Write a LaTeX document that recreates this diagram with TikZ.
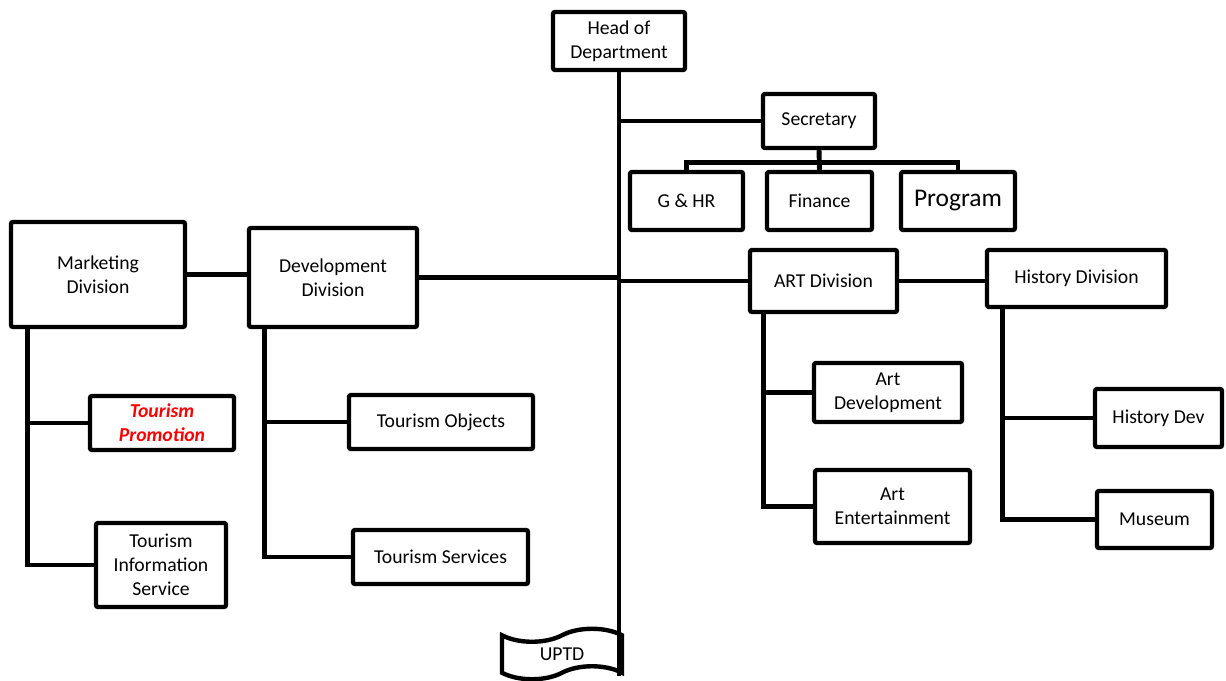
\documentclass[tikz,border=0pt]{standalone}
\usepackage{fontspec}
\setmainfont{Carlito}
\usetikzlibrary{shapes.symbols,calc}
\tikzset{
  box/.style={draw, line width=2.5pt, rounded corners=1.2pt, fill=white, align=center,
    font=\fontsize{11.2}{13.6}\selectfont, inner sep=2pt},
  link/.style={line width=2.8pt},
}
\begin{document}
\begin{tikzpicture}
	\useasboundingbox (0,0) rectangle (24.52,-13.6);
	% top of the tree
	\node[box, minimum width=2.64cm, minimum height=1.16cm] (head) at (12.38,-0.82) {Head of\\Department};
	\node[box, minimum width=2.24cm, minimum height=1.08cm] (sec) at (16.38,-2.42) {Secretary};
	\node[box, minimum width=2.26cm, minimum height=1.16cm] (ghr) at (13.73,-4.02) {G \& HR};
	\node[box, minimum width=2.10cm, minimum height=1.16cm] (fin) at (16.39,-4.02) {Finance};
	\node[box, minimum width=2.28cm, minimum height=1.16cm, font=\fontsize{14.5}{17}\selectfont] (prog) at (19.16,-4.02) {Program};
	% divisions
	\node[box, minimum width=3.48cm, minimum height=2.10cm] (mkt) at (1.96,-5.49) {Marketing\\Division};
	\node[box, minimum width=3.36cm, minimum height=1.98cm] (dev) at (6.66,-5.55) {Development\\Division};
	\node[box, minimum width=2.94cm, minimum height=1.24cm] (art) at (16.47,-5.62) {ART Division};
	\node[box, minimum width=3.58cm, minimum height=1.14cm] (hist) at (21.53,-5.57) {History Division};
	% units
	\node[box, minimum width=2.88cm, minimum height=1.08cm, text=red, font=\fontsize{11.2}{13.6}\selectfont\bfseries\itshape] (promo) at (3.24,-8.46) {Tourism\\Promotion};
	\node[box, minimum width=2.60cm, minimum height=1.68cm] (info) at (3.22,-11.30) {Tourism\\Information\\Service};
	\node[box, minimum width=3.68cm, minimum height=1.08cm] (obj) at (8.82,-8.44) {Tourism Objects};
	\node[box, minimum width=3.50cm, minimum height=1.08cm] (serv) at (8.81,-11.14) {Tourism Services};
	\node[box, minimum width=2.96cm, minimum height=1.18cm] (artdev) at (17.76,-7.85) {Art\\Development};
	\node[box, minimum width=3.10cm, minimum height=1.46cm] (artent) at (17.85,-10.13) {Art\\Entertainment};
	\node[box, minimum width=2.54cm, minimum height=1.16cm] (histdev) at (23.17,-8.36) {History Dev};
	\node[box, minimum width=2.30cm, minimum height=1.14cm] (mus) at (23.09,-10.39) {Museum};
	\node[draw, line width=2.5pt, tape, tape bend height=0.26cm, fill=white,
	  minimum width=2.40cm, minimum height=1.0cm, font=\fontsize{11.2}{13.6}\selectfont] (uptd) at (11.24,-13.08) {UPTD};
	% connectors
	\draw[link] (head.south) -- (head.south |- uptd.south east);
	\draw[link] (head.south |- sec.west) -- (sec.west);
	\draw[link] (sec.south) -- (fin.north);
	\draw[link] (ghr.north) |- ($(sec.south)+(0,-0.24)$) -| (prog.north);
	\draw[link] (dev.east) -- (head.south |- dev.east);
	\draw[link] (head.south |- art.west) -- (art.west);
	\draw[link] (mkt.east) -- (mkt.east -| dev.west);
	\draw[link] (art.east) -- (art.east -| hist.west);
	\draw[link] ($(mkt.south west)+(0.38,0)$) |- (promo.west);
	\draw[link] ($(mkt.south west)+(0.38,0)$) |- (info.west);
	\draw[link] ($(dev.south west)+(0.36,0)$) |- (obj.west);
	\draw[link] ($(dev.south west)+(0.36,0)$) |- (serv.west);
	\draw[link] ($(art.south west)+(0.32,0)$) |- (artdev.west);
	\draw[link] ($(art.south west)+(0.32,0)$) |- (artent.west);
	\draw[link] ($(hist.south west)+(0.36,0)$) |- (histdev.west);
	\draw[link] ($(hist.south west)+(0.36,0)$) |- (mus.west);
\end{tikzpicture}
\end{document}
